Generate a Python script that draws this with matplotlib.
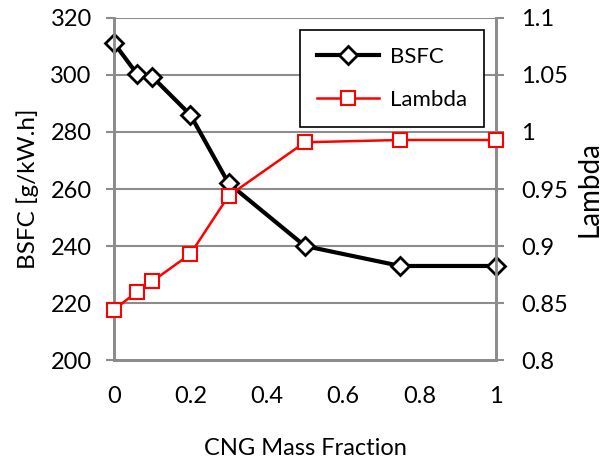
import matplotlib
matplotlib.use("Agg")
import matplotlib.pyplot as plt

cng_fraction = [0, 0.06, 0.1, 0.2, 0.3, 0.5, 0.75, 1]
bsfc = [311.2, 300.4, 299.4, 286, 262, 240, 233, 233]
lam = [0.844, 0.860, 0.869, 0.893, 0.944, 0.991, 0.993, 0.993]

x_ticks = [0, 0.2, 0.4, 0.6, 0.8, 1]
x_ticklabels = ["0", "0.2", "0.4", "0.6", "0.8", "1"]
left_ticks = [200, 220, 240, 260, 280, 300, 320]
right_ticks = [0.8, 0.85, 0.9, 0.95, 1.0, 1.05, 1.1]
right_ticklabels = ["0.8", "0.85", "0.9", "0.95", "1", "1.05", "1.1"]

plt.rcParams['font.family'] = ['Lato', 'DejaVu Sans']
grid_c = "#8c8c8c"

fig = plt.figure(figsize=(6.13, 4.61), dpi=100)
ax = fig.add_axes([0.186, 0.219, 0.623, 0.742])
ax2 = ax.twinx()

ax.set_xlim(0, 1)
ax.set_ylim(200, 320)
ax2.set_ylim(0.8, 1.1)

for y in left_ticks[1:]:
    ax.axhline(y, color=grid_c, lw=1.5, zorder=0)

l1, = ax.plot(cng_fraction, bsfc, color="black", lw=3, marker="D", ms=9,
              mfc="white", mec="black", mew=2, label="BSFC", zorder=3, clip_on=False)
l2, = ax2.plot(cng_fraction, lam, color="#ff0000", lw=1.8, marker="s", ms=10,
               mfc="white", mec="#ff0000", mew=1.5, label="Lambda", zorder=3, clip_on=False)

for a in (ax, ax2):
    a.spines['top'].set_visible(False)
    for s in ('left', 'right', 'bottom'):
        a.spines[s].set_color(grid_c)
        a.spines[s].set_linewidth(2)

ax.set_xticks(x_ticks)
ax.set_xticklabels(x_ticklabels)
ax.set_yticks(left_ticks)
ax2.set_yticks(right_ticks)
ax2.set_yticklabels(right_ticklabels)
ax.tick_params(axis='x', length=0, labelsize=17, pad=19)
ax.tick_params(axis='y', length=6, width=1.5, color=grid_c, labelsize=17, pad=10)
ax2.tick_params(axis='y', length=6, width=1.5, color=grid_c, labelsize=17, pad=12)

ax.set_ylabel("BSFC [g/kW.h]", fontsize=17.5, labelpad=8)
ax2.set_ylabel("Lambda", fontsize=20, labelpad=6)
ax.set_xlabel("CNG Mass Fraction", fontsize=17, labelpad=22)

ax2.set_zorder(ax.get_zorder() + 1)
ax.patch.set_visible(True)
ax2.patch.set_visible(False)

leg = ax2.legend([l1, l2], ["BSFC", "Lambda"], loc="upper left",
                 bbox_to_anchor=(0.488, 0.965), fontsize=16, frameon=True,
                 fancybox=False, edgecolor="black", framealpha=1,
                 handlelength=2.8, borderpad=0.75, labelspacing=1.05,
                 handletextpad=0.5, borderaxespad=0)
leg.get_frame().set_linewidth(1.2)

fig.savefig("out.png", dpi=100)
